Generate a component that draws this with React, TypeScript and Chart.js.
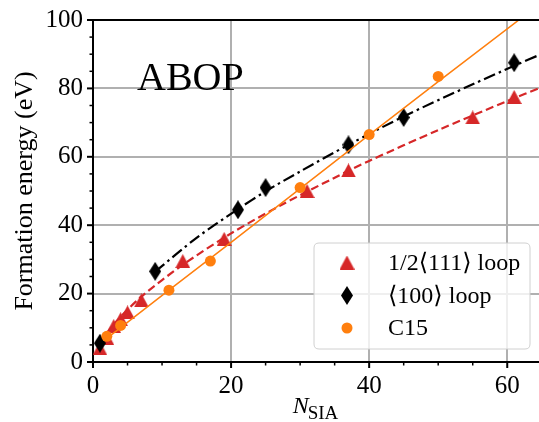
import React, { useEffect, useRef } from 'react';
import { Chart, registerables } from 'chart.js';

Chart.register(...registerables);

const SERIF = "'Liberation Serif', 'Times New Roman', 'DejaVu Serif', serif";

// 1/2<111> loop
const loop111N = [1, 2, 3, 4, 5, 7, 13, 19, 31, 37, 55, 61];
const loop111E = [4, 7, 10.5, 12.5, 14.5, 18, 29.5, 36, 50, 56, 71.5, 77.5];
// <100> loop
const loop100N = [1, 9, 21, 25, 37, 45, 61];
const loop100E = [5.5, 26.5, 44.5, 51, 63.5, 71.5, 87.5];
// C15
const c15N = [2, 4, 11, 17, 30, 40, 50];
const c15E = [7.5, 10.7, 21, 29.5, 51, 66.5, 83.5];

// fitted curves
const fit111N = [1, 3, 7, 13, 20, 27, 35, 40, 50, 60, 65];
const fit111E = [5.4, 11.0, 19.1, 28.4, 37.6, 45.6, 53.9, 58.8, 67.8, 76.3, 80.4];
const fit100N = [9, 15, 21, 25, 30, 37, 45, 55, 61, 65];
const fit100E = [26.4, 36.3, 44.7, 49.9, 55.7, 63.5, 71.8, 81.2, 86.6, 90.1];
const fitC15N = [2, 11, 20, 30, 40, 50, 62];
const fitC15E = [6.9, 21.0, 35.0, 50.7, 66.4, 82.0, 100.5];

const xMajor = [0, 20, 40, 60];
const xMinor = [5, 10, 15, 25, 30, 35, 45, 50, 55];
const yMajor = [0, 20, 40, 60, 80, 100];
const yMinor = [5, 10, 15, 25, 30, 35, 45, 50, 55, 65, 70, 75, 85, 90, 95];

const legendLabels = ['1/2\u27E8111\u27E9 loop', '\u27E8100\u27E9 loop', 'C15'];
const annotation = 'ABOP';
const yTitle = 'Formation energy (eV)';

const RED = '#d62728';
const BLACK = '#000000';
const ORANGE = '#ff7f0e';

function pts(xs: number[], ys: number[]) {
  return xs.map((x, i) => ({ x, y: ys[i] }));
}

function makeDiamond(w: number, h: number, color: string) {
  const c = document.createElement('canvas');
  c.width = w;
  c.height = h;
  const g = c.getContext('2d')!;
  g.fillStyle = color;
  g.beginPath();
  g.moveTo(w / 2, 0);
  g.lineTo(w, h / 2);
  g.lineTo(w / 2, h);
  g.lineTo(0, h / 2);
  g.closePath();
  g.fill();
  return c;
}

function makeTriangle(w: number, h: number, color: string) {
  const c = document.createElement('canvas');
  c.width = w;
  c.height = h;
  const g = c.getContext('2d')!;
  g.fillStyle = color;
  g.beginPath();
  g.moveTo(w / 2, 0);
  g.lineTo(w, h);
  g.lineTo(0, h);
  g.closePath();
  g.fill();
  return c;
}

export default function App() {
  const ref = useRef<HTMLCanvasElement>(null);

  useEffect(() => {
    const canvas = ref.current;
    if (!canvas) return;
    const tri = makeTriangle(15, 14, RED);
    const dia = makeDiamond(12, 19, BLACK);

    const decor = {
      id: 'decor',
      afterDraw(chart: any) {
        const { ctx, chartArea: a } = chart;
        const xs = chart.scales.x;
        const ys = chart.scales.y;
        ctx.save();
        // top spine
        ctx.strokeStyle = '#000';
        ctx.lineWidth = 2;
        ctx.beginPath();
        ctx.moveTo(a.left - 1, a.top);
        ctx.lineTo(a.right, a.top);
        ctx.stroke();
        // ticks
        const tick = (vals: number[], len: number, lw: number) => {
          ctx.lineWidth = lw;
          for (const v of vals) {
            const px = xs.getPixelForValue(v);
            ctx.beginPath();
            ctx.moveTo(px, a.bottom);
            ctx.lineTo(px, a.bottom + len);
            ctx.stroke();
          }
        };
        const ytick = (vals: number[], len: number, lw: number) => {
          ctx.lineWidth = lw;
          for (const v of vals) {
            const py = ys.getPixelForValue(v);
            ctx.beginPath();
            ctx.moveTo(a.left, py);
            ctx.lineTo(a.left - len, py);
            ctx.stroke();
          }
        };
        tick(xMajor, 6, 2);
        tick(xMinor, 3.5, 1.5);
        ytick(yMajor, 6, 2);
        ytick(yMinor, 3.5, 1.5);

        // annotation
        ctx.fillStyle = '#000';
        ctx.font = `40px ${SERIF}`;
        ctx.textAlign = 'left';
        ctx.textBaseline = 'alphabetic';
        ctx.fillText(annotation, 137, 90);

        // y title
        ctx.save();
        ctx.translate(25, (a.top + a.bottom) / 2);
        ctx.rotate(-Math.PI / 2);
        ctx.textAlign = 'center';
        ctx.textBaseline = 'middle';
        ctx.font = `26px ${SERIF}`;
        ctx.fillText(yTitle, 0, 0);
        ctx.restore();

        // x title: N_SIA
        ctx.font = `italic 24px ${SERIF}`;
        const wN = ctx.measureText('N').width;
        ctx.font = `19px ${SERIF}`;
        const wS = ctx.measureText('SIA').width;
        const cx = (a.left + a.right) / 2;
        const x0 = cx - (wN + wS) / 2;
        ctx.textAlign = 'left';
        ctx.font = `italic 24px ${SERIF}`;
        ctx.fillText('N', x0, 413);
        ctx.font = `19px ${SERIF}`;
        ctx.fillText('SIA', x0 + wN - 1, 418.5);

        // legend
        const L = 314, T = 243, R = 530, B = 349, rr = 5;
        ctx.beginPath();
        ctx.moveTo(L + rr, T);
        ctx.lineTo(R - rr, T);
        ctx.quadraticCurveTo(R, T, R, T + rr);
        ctx.lineTo(R, B - rr);
        ctx.quadraticCurveTo(R, B, R - rr, B);
        ctx.lineTo(L + rr, B);
        ctx.quadraticCurveTo(L, B, L, B - rr);
        ctx.lineTo(L, T + rr);
        ctx.quadraticCurveTo(L, T, L + rr, T);
        ctx.closePath();
        ctx.fillStyle = 'rgba(255,255,255,0.8)';
        ctx.fill();
        ctx.strokeStyle = '#d0d0d0';
        ctx.lineWidth = 1;
        ctx.stroke();

        const mx = 347;
        const rows = [262.5, 295.5, 328];
        ctx.drawImage(tri, mx - tri.width / 2, rows[0] - tri.height / 2);
        ctx.drawImage(dia, mx - dia.width / 2, rows[1] - dia.height / 2);
        ctx.fillStyle = ORANGE;
        ctx.beginPath();
        ctx.arc(mx, rows[2], 5.5, 0, Math.PI * 2);
        ctx.fill();

        ctx.fillStyle = '#000';
        ctx.font = `24px ${SERIF}`;
        ctx.textAlign = 'left';
        ctx.textBaseline = 'middle';
        legendLabels.forEach((t, i) => ctx.fillText(t, 388, rows[i] + 1));
        ctx.restore();
      },
    };

    const chart = new Chart(canvas, {
      type: 'scatter',
      data: {
        datasets: [
          {
            data: pts(c15N, c15E),
            pointStyle: 'circle',
            pointRadius: 5.5,
            pointBackgroundColor: ORANGE,
            pointBorderWidth: 0,
            showLine: false,
          },
          {
            data: pts(fitC15N, fitC15E),
            showLine: true,
            borderColor: ORANGE,
            borderWidth: 1.5,
            pointRadius: 0,
          },
          {
            data: pts(loop100N, loop100E),
            pointStyle: dia,
            pointRadius: 6,
            showLine: false,
          },
          {
            data: pts(fit100N, fit100E),
            showLine: true,
            borderColor: BLACK,
            borderWidth: 2.2,
            borderDash: [12, 4, 2.5, 4],
            pointRadius: 0,
            tension: 0.3,
          },
          {
            data: pts(loop111N, loop111E),
            pointStyle: tri,
            pointRadius: 6,
            showLine: false,
          },
          {
            data: pts(fit111N, fit111E),
            showLine: true,
            borderColor: RED,
            borderWidth: 2.2,
            borderDash: [8, 4],
            pointRadius: 0,
            tension: 0.3,
          },
        ],
      },
      options: {
        responsive: false,
        animation: false,
        events: [],
        layout: { autoPadding: false, padding: { left: 0, right: 0, top: 20, bottom: 0 } },
        plugins: {
          legend: { display: false },
          tooltip: { enabled: false },
          title: { display: false },
        },
        scales: {
          x: {
            type: 'linear',
            min: 0,
            max: 64.6,
            afterFit: (s: any) => {
              s.height = 60;
              s.paddingLeft = 0;
              s.paddingRight = 0;
            },
            ticks: {
              stepSize: 20,
              includeBounds: false,
              padding: 9,
              color: '#000',
              font: { family: SERIF, size: 25 },
              maxRotation: 0,
            },
            grid: { color: '#b0b0b0', lineWidth: 2, drawTicks: false },
            border: { display: true, color: '#000', width: 2 },
          },
          y: {
            type: 'linear',
            min: 0,
            max: 100,
            afterFit: (s: any) => {
              s.width = 93;
              s.paddingTop = 0;
              s.paddingBottom = 0;
            },
            ticks: {
              stepSize: 20,
              padding: 10,
              color: '#000',
              font: { family: SERIF, size: 25 },
            },
            grid: { color: '#b0b0b0', lineWidth: 2, drawTicks: false },
            border: { display: true, color: '#000', width: 2 },
          },
        },
      },
      plugins: [decor],
    } as any);

    return () => chart.destroy();
  }, []);

  return (
    <div style={{ position: 'absolute', left: 0, top: 0, width: 539, height: 422 }}>
      <canvas ref={ref} width={539} height={422} style={{ display: 'block' }} />
    </div>
  );
}
